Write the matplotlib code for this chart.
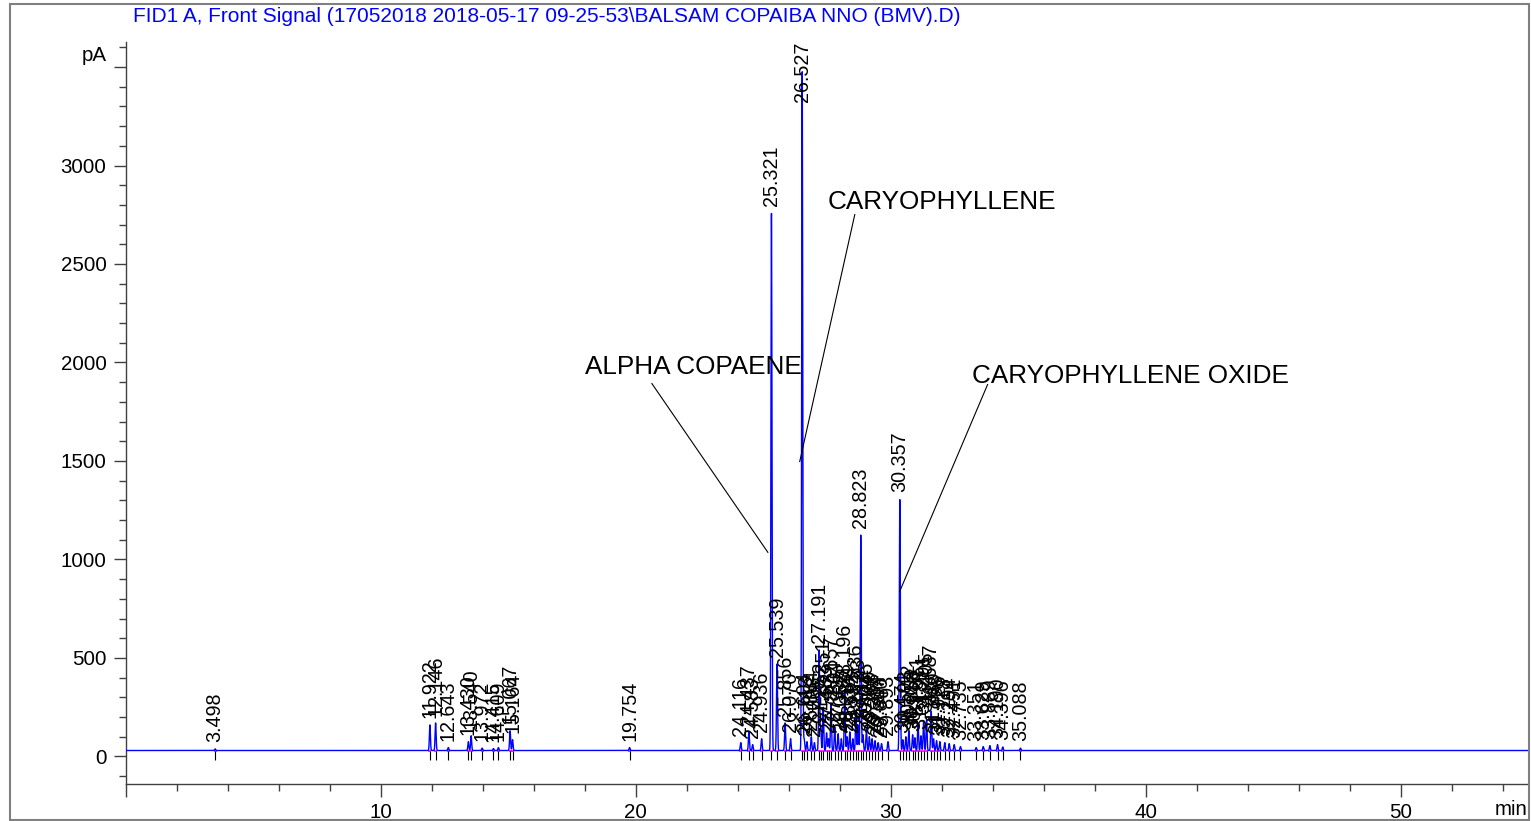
import numpy as np
import matplotlib
matplotlib.use("Agg")
import matplotlib.pyplot as plt
from matplotlib.patches import Rectangle
from matplotlib.ticker import MultipleLocator, FuncFormatter
import matplotlib.transforms as mtransforms

plt.rcParams['font.family'] = ['Liberation Sans', 'DejaVu Sans']

TITLE = "FID1 A, Front Signal (17052018 2018-05-17 09-25-53\\BALSAM COPAIBA NNO (BMV).D)"

# Peak table: retention times (min) and heights above baseline (pA)
peak_rt = [3.498, 11.922, 12.146, 12.643, 13.430, 13.540, 13.972, 14.415, 14.609,
           15.067, 15.164, 19.754,
           24.116, 24.437, 24.583, 24.936, 25.321, 25.539, 25.856, 26.070, 26.527,
           26.604, 26.713, 26.884, 27.006, 27.191, 27.252, 27.351, 27.483, 27.562,
           27.657, 27.804, 27.935, 28.062, 28.196, 28.287, 28.394, 28.512, 28.636,
           28.723, 28.823, 28.912, 29.045, 29.160, 29.268, 29.384, 29.507, 29.640,
           29.893, 30.357, 30.474, 30.593, 30.712, 30.858, 30.946, 31.071, 31.185,
           31.291, 31.405, 31.587, 31.680, 31.798, 31.926, 32.118, 32.294, 32.491,
           32.735, 33.351, 33.629, 33.889, 34.190, 34.396, 35.088]
peak_h = [8, 130, 140, 15, 45, 75, 12, 10, 15,
          100, 55, 15,
          40, 95, 30, 60, 2730, 440, 140, 60, 3450,
          60, 45, 70, 40, 510, 110, 220, 90, 60,
          240, 120, 85, 60, 300, 70, 95, 60, 200,
          130, 1095, 80, 110, 70, 60, 50, 40, 35,
          45, 1275, 55, 70, 100, 80, 65, 140, 75,
          150, 160, 200, 60, 50, 45, 40, 35, 30,
          20, 15, 20, 25, 30, 18, 12]
BASELINE = 30.0

# Annotated compounds: name, text anchor (min, pA), leader start, leader end
comp_names = ["ALPHA COPAENE", "CARYOPHYLLENE", "CARYOPHYLLENE OXIDE"]
comp_text_xy = [(18.0, 1975), (27.53, 2815), (33.18, 1930)]
comp_line_from = [(20.63, 1893), (28.59, 2751), (33.80, 1888)]
comp_line_to = [(25.18, 1036), (26.43, 1497), (30.35, 837)]

XMIN, XMAX = 0.0, 55.0
YMIN, YMAX = -140.0, 3627.0

W, H = 1531, 821
fig = plt.figure(figsize=(W / 100, H / 100), dpi=100)
fig.patch.set_facecolor('white')
ax = fig.add_axes([126 / W, 1 - 784 / H, (1528 - 126) / W, (784 - 42) / H])

# signal trace
t = np.arange(XMIN, XMAX, 0.002)
sig = np.full_like(t, BASELINE)
for rt, h in zip(peak_rt, peak_h):
    sig += h * np.exp(-0.5 * ((t - rt) / 0.02) ** 2)

# integration baselines (magenta) and peak markers
for rt in peak_rt:
    ax.hlines(BASELINE, rt - 0.06, rt + 0.06, color='#ff00ff', lw=1.2, zorder=2)
ax.vlines(peak_rt, -18, BASELINE - 2, color='black', lw=0.8, zorder=2)
ax.plot(t, sig, color='#0000ff', lw=1.0, zorder=3)

# retention time labels
for rt, h in zip(peak_rt, peak_h):
    apex = BASELINE + h
    lab = f"{rt:.3f}"
    if apex + 340 > YMAX:
        ax.text(rt, YMAX, lab, rotation=90, ha='center', va='top',
                fontsize=14.2, color='black', zorder=4)
    else:
        ax.annotate(lab, xy=(rt, apex), xytext=(0, 5), textcoords='offset points',
                    rotation=90, ha='center', va='bottom', fontsize=14.2,
                    color='black', zorder=4)

# compound annotations
for name, txy, lf, lt in zip(comp_names, comp_text_xy, comp_line_from, comp_line_to):
    ax.text(txy[0], txy[1], name, fontsize=18.8, ha='left', va='center', color='black', zorder=5)
    ax.plot([lf[0], lt[0]], [lf[1], lt[1]], color='black', lw=0.8, zorder=5)

ax.set_xlim(XMIN, XMAX)
ax.set_ylim(YMIN, YMAX)

for s in ['top', 'right']:
    ax.spines[s].set_visible(False)
for s in ['left', 'bottom']:
    ax.spines[s].set_color('#404040')
    ax.spines[s].set_linewidth(1.0)

ax.xaxis.set_major_locator(MultipleLocator(10))
ax.xaxis.set_minor_locator(MultipleLocator(2))
ax.yaxis.set_major_locator(MultipleLocator(500))
ax.yaxis.set_minor_locator(MultipleLocator(100))
ax.xaxis.set_major_formatter(FuncFormatter(lambda v, p: "" if v <= 0 or v > 50 else f"{v:.0f}"))
ax.yaxis.set_major_formatter(FuncFormatter(lambda v, p: "" if v > 3000 else f"{v:.0f}"))
ax.tick_params(axis='both', which='major', direction='out', length=9, width=1,
               color='#404040', labelsize=14.8, pad=5)
ax.tick_params(axis='both', which='minor', direction='out', length=5, width=1,
               color='#404040')

blend_y = mtransforms.blended_transform_factory(ax.transAxes, ax.transData)
ax.text(-0.0136, 3560, "pA", transform=blend_y, ha='right', va='center', fontsize=14.8)
ax.text(1.0, -0.034, "min", transform=ax.transAxes, ha='right', va='center', fontsize=14.8)

fig.text(133 / W, 1 - 17 / H, TITLE, color='#0000ff', fontsize=15, ha='left', va='center')

fig.add_artist(Rectangle((10 / W, 1 - 820 / H), (1529 - 10) / W, (820 - 4) / H,
                         transform=fig.transFigure, fill=False, edgecolor='#808080', lw=1.5))

fig.savefig("out.png", dpi=100)
